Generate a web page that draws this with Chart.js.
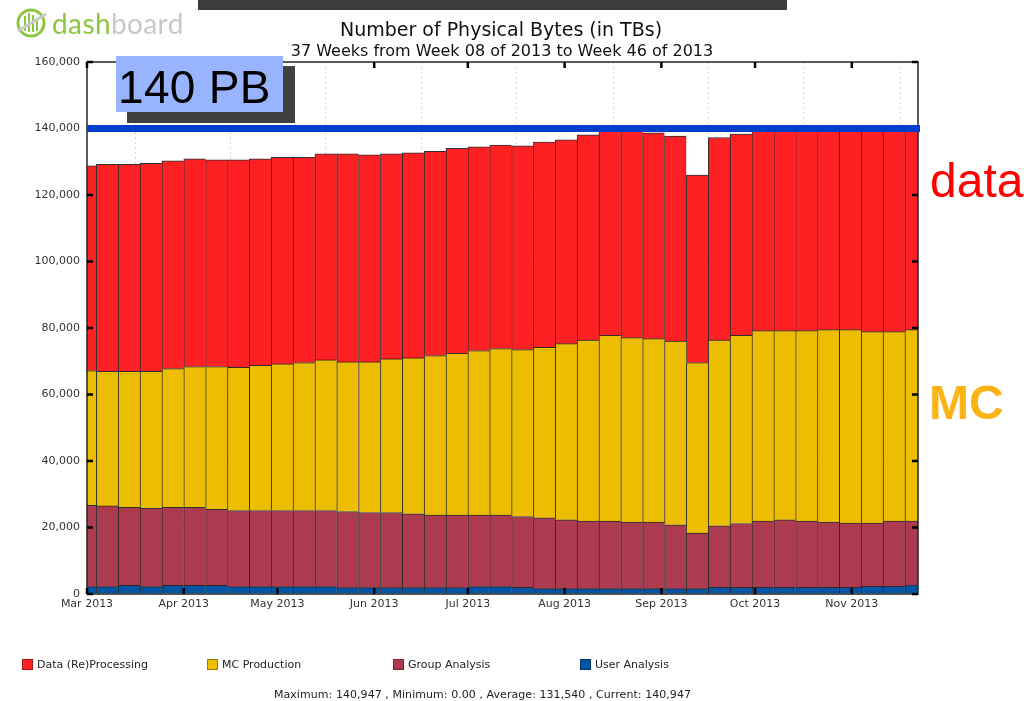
<!DOCTYPE html>
<html><head><meta charset="utf-8">
<script src="https://cdn.jsdelivr.net/npm/chart.js@4.4.1/dist/chart.umd.min.js"></script>
<style>
html,body{margin:0;padding:0;background:#fff;}
#wrap{position:relative;width:1024px;height:701px;overflow:hidden;font-family:"DejaVu Sans",sans-serif;}
#c{position:absolute;left:0;top:0;}
.abs{position:absolute;white-space:nowrap;}
.lg{position:absolute;top:658px;font-size:11px;line-height:13px;color:#222;}
.sq{position:absolute;top:659px;width:9px;height:9px;border:1px solid rgba(0,0,0,0.35);}
</style></head><body>
<div id="wrap">
<canvas id="c" width="1024" height="701"></canvas>

<div class="abs" style="left:198px;top:0;width:589px;height:10px;background:#3d3d3d"></div>

<svg class="abs" style="left:14px;top:7px" width="38" height="32" viewBox="0 0 38 32">
  <circle cx="17" cy="16" r="13" fill="none" stroke="#8cc63f" stroke-width="3"/>
  <line x1="11" y1="9" x2="11" y2="24" stroke="#8cc63f" stroke-width="2"/>
  <line x1="15" y1="6" x2="15" y2="25" stroke="#8cc63f" stroke-width="2"/>
  <line x1="19" y1="8" x2="19" y2="25" stroke="#8cc63f" stroke-width="2"/>
  <line x1="23" y1="11" x2="23" y2="24" stroke="#8cc63f" stroke-width="2"/>
  <line x1="4" y1="24" x2="32" y2="7" stroke="#c9c9c9" stroke-width="3"/>
</svg>
<div class="abs" style="left:52px;top:6px;font-family:Lato,'Open Sans',sans-serif;font-size:28px;line-height:34px;letter-spacing:0.4px"><span style="color:#8cc63f">dash</span><span style="color:#c8c8c8">board</span></div>

<div class="abs" style="left:0;width:1002px;text-align:center;top:20px;font-size:19px;line-height:19px;color:#111">Number of Physical Bytes (in TBs)</div>
<div class="abs" style="left:0;width:1004px;text-align:center;top:43px;font-size:16px;line-height:16px;color:#111">37 Weeks from Week 08 of 2013 to Week 46 of 2013</div>

<div class="abs" style="left:127px;top:66px;width:168px;height:57px;background:#404040"></div>
<div class="abs" style="left:116px;top:56px;width:167px;height:56px;background:#99b4ff"></div>
<div class="abs" style="left:118px;top:64px;font-family:'Liberation Sans',Arial,sans-serif;font-size:46px;line-height:46px;letter-spacing:0.3px;color:#000">140 PB</div>

<div class="abs" style="left:930px;top:157px;font-family:'Liberation Sans',Arial,sans-serif;font-size:48px;line-height:48px;color:#ff0000">data</div>
<div class="abs" style="left:929px;top:379px;font-family:'Liberation Sans',Arial,sans-serif;font-weight:bold;font-size:48px;line-height:48px;color:#fcb316">MC</div>

<div class="sq" style="left:22px;background:#fe2023"></div><div class="lg" style="left:37px">Data (Re)Processing</div>
<div class="sq" style="left:207px;background:#ecbd00"></div><div class="lg" style="left:222px">MC Production</div>
<div class="sq" style="left:393px;background:#ad3b50"></div><div class="lg" style="left:408px">Group Analysis</div>
<div class="sq" style="left:580px;background:#0055a5"></div><div class="lg" style="left:595px">User Analysis</div>

<div class="abs" style="left:0;width:965px;text-align:center;top:688px;font-size:11px;line-height:13px;letter-spacing:0.06px;color:#222">Maximum: 140,947 , Minimum: 0.00 , Average: 131,540 , Current: 140,947</div>
</div>

<script>
// ---- data ----
const weekNumbers = [8,9,10,11,12,13,14,15,16,17,18,19,20,21,22,23,24,25,26,27,28,29,30,31,32,33,34,35,36,37,38,39,40,41,42,43,44,45,46];
const userAnalysis = [2200,2200,2600,2200,2600,2600,2600,2200,2200,2200,2200,2200,1900,1900,1900,1900,1900,1900,2200,2200,2000,1600,1600,1600,1600,1600,1600,1600,1600,2000,2000,2000,2000,2000,2000,2000,2300,2300,2700];
const groupAnalysis = [24500,24300,23500,23600,23500,23500,22900,22900,22900,22900,22900,22900,22900,22600,22600,22200,21800,21800,21500,21500,21300,21300,20700,20300,20300,20000,20000,19200,16700,18500,19200,19900,20300,19900,19600,19300,19000,19600,19200];
const mcProduction = [40500,40500,40900,41200,41700,42300,42900,43100,43700,44100,44500,45300,45000,45300,46200,46900,48000,48700,49500,50100,50200,51300,53000,54500,55900,55500,55200,55300,51300,55900,56600,57300,56900,57300,57900,58200,57600,57000,57600];
const dataProcessing = [61600,62200,62200,62500,62500,62500,62200,62400,62100,62100,61700,62000,62600,62300,61700,61700,61400,61600,61300,61200,61300,61700,61300,61700,61800,62100,61900,61600,56400,60900,60500,60100,60400,60600,60500,60700,61500,61700,61447];
const monthLabels = ['Mar 2013','Apr 2013','May 2013','Jun 2013','Jul 2013','Aug 2013','Sep 2013','Oct 2013','Nov 2013'];
const monthStarts = ['2013-03-01','2013-04-01','2013-05-01','2013-06-01','2013-07-01','2013-08-01','2013-09-01','2013-10-01','2013-11-01'];
const axisStart = '2013-03-01';
const axisEnd = '2013-11-22';
const firstWeekStart = '2013-02-25';
const yMax = 160000;
const yStep = 20000;
const capacityTB = 140000;

// ---- helpers: dates -> day offsets (fed to the library's linear scale) ----
const DAY = 86400000;
function toUTC(s){const p=s.split('-').map(Number);return Date.UTC(p[0],p[1]-1,p[2]);}
const t0 = toUTC(axisStart);
function dayOf(s){return (toUTC(s)-t0)/DAY;}
const weekCenters = weekNumbers.map(w => (toUTC(firstWeekStart) + (w-weekNumbers[0])*7*DAY - t0)/DAY + 3.5);
const monthDays = monthStarts.map(dayOf);
const pts = arr => arr.map((v,i)=>({x:weekCenters[i], y:v}));

const barBase = {borderColor:'rgba(10,10,10,0.85)', borderWidth:{top:1,left:1,right:0,bottom:0}, borderSkipped:false, barPercentage:1, categoryPercentage:1};

const decor = {
  id:'decor',
  afterDraw(chart){
    const {ctx, chartArea:a, scales:{x,y}} = chart;
    ctx.save();
    // frame
    ctx.strokeStyle='#262626'; ctx.lineWidth=1.5;
    ctx.strokeRect(a.left, a.top, a.right-a.left, a.bottom-a.top);
    // inward ticks
    ctx.strokeStyle='#000'; ctx.lineWidth=2.5;
    for(let v=0; v<=yMax; v+=yStep){
      const py=y.getPixelForValue(v);
      ctx.beginPath(); ctx.moveTo(a.left,py); ctx.lineTo(a.left+6,py); ctx.stroke();
      ctx.beginPath(); ctx.moveTo(a.right-6,py); ctx.lineTo(a.right,py); ctx.stroke();
    }
    monthDays.forEach(d=>{
      const px=x.getPixelForValue(d);
      ctx.beginPath(); ctx.moveTo(px,a.bottom); ctx.lineTo(px,a.bottom-6); ctx.stroke();
      ctx.beginPath(); ctx.moveTo(px,a.top); ctx.lineTo(px,a.top+6); ctx.stroke();
    });
    // capacity line
    const cy=y.getPixelForValue(capacityTB);
    ctx.strokeStyle='#003fcc'; ctx.lineWidth=7;
    ctx.beginPath(); ctx.moveTo(a.left,cy); ctx.lineTo(a.right+2,cy); ctx.stroke();
    ctx.restore();
  }
};

new Chart(document.getElementById('c'), {
  type:'bar',
  data:{datasets:[
    Object.assign({label:'User Analysis', data:pts(userAnalysis), backgroundColor:'#0055a5'}, barBase),
    Object.assign({label:'Group Analysis', data:pts(groupAnalysis), backgroundColor:'#ad3b50'}, barBase),
    Object.assign({label:'MC Production', data:pts(mcProduction), backgroundColor:'#ecbd00'}, barBase),
    Object.assign({label:'Data (Re)Processing', data:pts(dataProcessing), backgroundColor:'#fe2023'}, barBase)
  ]},
  options:{
    responsive:false, animation:false,
    layout:{padding:{left:0, right:106, top:62, bottom:77}},
    plugins:{legend:{display:false}, tooltip:{enabled:false}, title:{display:false}},
    scales:{
      x:{type:'linear', stacked:true, offset:false, min:0, max:dayOf(axisEnd)+0.2, z:1,
         afterBuildTicks:s=>{s.ticks=monthDays.map(v=>({value:v}));},
         afterFit:s=>{s.height=30;},
         grid:{color:'rgba(0,0,0,0.16)', drawTicks:false},
         border:{display:false, dash:[2,3]},
         ticks:{autoSkip:false, maxRotation:0, padding:4, color:'#333', font:{family:'DejaVu Sans', size:11},
                callback:v=>{const i=monthDays.indexOf(v);return i>=0?monthLabels[i]:'';}}},
      y:{stacked:true, min:0, max:yMax, z:1,
         afterFit:s=>{s.width=87;},
         grid:{color:'rgba(0,0,0,0.14)', drawTicks:false},
         border:{display:false, dash:[2,3]},
         ticks:{stepSize:yStep, padding:7, color:'#333', font:{family:'DejaVu Sans', size:11},
                callback:v=>v.toLocaleString('en-US')}}
    }
  },
  plugins:[decor]
});
</script>
</body></html>
